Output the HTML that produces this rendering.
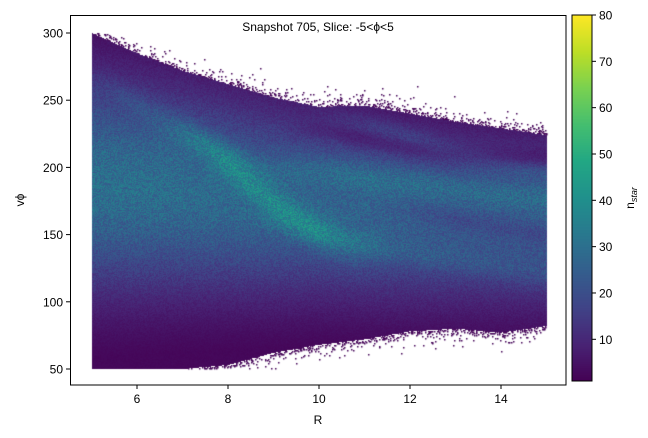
<!DOCTYPE html>
<html><head><meta charset="utf-8"><style>
html,body{margin:0;padding:0;background:#fff;}
#wrap{position:relative;width:648px;height:438px;overflow:hidden;}
canvas,svg{position:absolute;left:0;top:0;}
text{font-family:"Liberation Sans",sans-serif;fill:#000;}
</style></head><body>
<div id="wrap">
<canvas id="cv" width="648" height="438"></canvas>
<svg id="sv" width="648" height="438"></svg>
</div>
<script>
// ---- data ----
const gridR = [5,6,7,8,9,10,11,12,13,14,15];
const upperEnv = [300,285,272,262,252,245,246,240,234,229,224];
const lowerEnv = [50,50,50,53,62,68,72,78,80,77,82];
const baseCenter = [188,185,182,178,174,171,168,165,162,160,158];
const baseSigma = [58,56,54,52,50,48,47,46,45,44,43];
const baseAmp = [30,30,29,28,27,26,26,25,24,24,24];
const ridgeA_R = [7.2,8,8.5,9,9.5,10,10.8];
const ridgeA_v = [222,202,188,173,162,152,140];
const ridgeB_R = [5.3,6,7,8,9];
const ridgeB_v = [262,246,228,210,195];
const ridgeC_R = [9.5,11,12,13,14,15];
const ridgeC_v = [200,193,189,185,181,178];
const ridgeD_R = [10.5,12,13,14,15];
const ridgeD_v = [236,222,210,202,197];
const ridgeE_R = [9,11,13,15];
const ridgeE_v = [160,142,130,120];
const dipA_R = [10,12,13,14,15];
const dipA_v = [228,214,209,207,206];
const dipB_R = [12,13.5,15];
const dipB_v = [168,158,150];
const ridgeAmps = [11,5,7,5,4,-6,-5];
const ridgeWidths = [9,7,8,6,7,5,6];
const xTicks = [6,8,10,12,14];
const yTicks = [50,100,150,200,250,300];
const cbTicks = [10,20,30,40,50,60,70,80];
const cbMin = 1, cbMax = 80;

// ---- scales ----
const xPix = r => 91.5 + (r-5)*45.5;
const yPix = v => 369 - (v-50)*1.344;
const xInv = p => 5 + (p-91.5)/45.5;
const yInv = p => 50 + (369-p)/1.344;

function interp(xs, ys, x){
  if (x <= xs[0]) return ys[0];
  if (x >= xs[xs.length-1]) return ys[ys.length-1];
  for (let i=0;i<xs.length-1;i++){
    if (x>=xs[i] && x<=xs[i+1]){const t=(x-xs[i])/(xs[i+1]-xs[i]);return ys[i]+t*(ys[i+1]-ys[i]);}
  }
}
const FADE = 0.9;
function ridgeVal(rs, vs, R, v, amp, w){
  const a = rs[0], b = rs[rs.length-1];
  if (R < a-FADE || R > b+FADE) return 0;
  let fade = 1;
  if (R < a+FADE) fade = (R-(a-FADE))/(2*FADE);
  if (R > b-FADE && b < 14.9) fade = Math.min(fade, ((b+FADE)-R)/(2*FADE));
  fade = Math.max(0, Math.min(1, fade));
  const c = interp(rs, vs, R);
  return amp*fade*Math.exp(-((v-c)*(v-c))/(2*w*w));
}
const ridges = [[ridgeA_R,ridgeA_v],[ridgeB_R,ridgeB_v],[ridgeC_R,ridgeC_v],[ridgeD_R,ridgeD_v],[ridgeE_R,ridgeE_v],[dipA_R,dipA_v],[dipB_R,dipB_v]];
function density(R, v){
  const c = interp(gridR, baseCenter, R), s = interp(gridR, baseSigma, R), a = interp(gridR, baseAmp, R);
  let d = a*Math.exp(-((v-c)*(v-c))/(2*s*s));
  ridges.forEach((rg,i)=>{ d += ridgeVal(rg[0], rg[1], R, v, ridgeAmps[i], ridgeWidths[i]); });
  return Math.max(d, 2.5);
}
function hash(x,y){let h=(x*374761393 + y*668265263)|0;h=(h^(h>>>13))*1274126177|0;h=h^(h>>>16);return ((h>>>0)%100000)/100000;}

const VIR = [[68,1,84],[72,35,116],[64,67,135],[52,94,141],[41,120,142],[32,144,140],[34,167,132],[68,190,112],[121,209,81],[189,222,38],[253,231,37]];
function viridis(t){
  t=Math.max(0,Math.min(1,t));const f=t*10,i=Math.min(9,Math.floor(f)),u=f-i;
  const a=VIR[i],b=VIR[i+1];
  return 'rgb('+Math.round(a[0]+(b[0]-a[0])*u)+','+Math.round(a[1]+(b[1]-a[1])*u)+','+Math.round(a[2]+(b[2]-a[2])*u)+')';
}
const norm = d => (d-cbMin)/(cbMax-cbMin);

// ---- heatmap ----
const ctx = document.getElementById('cv').getContext('2d');
const x0 = Math.round(xPix(5)), x1 = Math.round(xPix(15)), yTop = Math.round(yPix(300)), yBot = Math.round(yPix(50));
for (let px=x0; px<x1; px+=1){
  for (let py=yTop; py<yBot; py+=1){
    const R = xInv(px+0.5), v = yInv(py+0.5);
    const up = interp(gridR, upperEnv, R), lo = interp(gridR, lowerEnv, R);
    if (v <= up && v >= lo){
      let d = density(R, v)*(0.75 + 0.5*hash(px,py));
      ctx.fillStyle = viridis(norm(d));
      ctx.fillRect(px,py,1,1);
    } else {
      const dist = v>up ? v-up : lo-v;
      const p = 0.35*Math.exp(-dist/3);
      if (hash(px+7,py+3) < p){ ctx.fillStyle = viridis(norm(2)); ctx.fillRect(px,py,1.5,1.5); }
    }
  }
}
// colorbar gradient
for (let y=15; y<381; y++){
  const val = cbMin + (381-y)/366*(cbMax-cbMin);
  ctx.fillStyle = viridis(norm(val));
  ctx.fillRect(572,y,20,1);
}

// ---- axes ----
const svg = document.getElementById('sv');
const NS='http://www.w3.org/2000/svg';
function el(tag, attrs, txt){const e=document.createElementNS(NS,tag);for(const k in attrs)e.setAttribute(k,attrs[k]);if(txt!==undefined)e.textContent=txt;svg.appendChild(e);return e;}
let e;
e = el('rect',{x:70.5,y:15.5,width:495.5,height:369.5,fill:'none',stroke:'#000','stroke-width':1});


e = el('rect',{x:572,y:15,width:20,height:366,fill:'none',stroke:'#000','stroke-width':1});


xTicks.forEach(t=>{
  const x=xPix(t);
  e=el('line',{x1:x,y1:385,x2:x,y2:389,stroke:'#000'});
  
  
  e=el('text',{x:x,y:403,'font-size':12,'text-anchor':'middle'},String(t));
  
  
});
yTicks.forEach(t=>{
  const y=yPix(t);
  e=el('line',{x1:66,y1:y,x2:70,y2:y,stroke:'#000'});
  
  
  e=el('text',{x:63,y:y+4.5,'font-size':12,'text-anchor':'end'},String(t));
  
  
});
cbTicks.forEach(t=>{
  const y=381-(t-cbMin)/(cbMax-cbMin)*366;
  e=el('line',{x1:592,y1:y,x2:596,y2:y,stroke:'#000'});
  
  
  e=el('text',{x:599,y:y+4.5,'font-size':12},String(t));
  
  
});
e=el('text',{x:318,y:31,'font-size':12,'text-anchor':'middle'},'Snapshot 705, Slice: -5<ϕ<5');


e=el('text',{x:318,y:424,'font-size':12,'text-anchor':'middle'},'R');


e=el('text',{x:24,y:200,'font-size':12,'text-anchor':'middle',transform:'rotate(-90 24 200)'},'vϕ');


e=el('text',{x:634,y:198,'font-size':12,'text-anchor':'middle',transform:'rotate(-90 634 198)'});


const t1=document.createElementNS(NS,'tspan');t1.textContent='n';e.appendChild(t1);
const t2=document.createElementNS(NS,'tspan');t2.setAttribute('font-size','9');t2.setAttribute('font-style','italic');t2.setAttribute('dy','3');t2.textContent='star';e.appendChild(t2);
</script>
</body></html>
